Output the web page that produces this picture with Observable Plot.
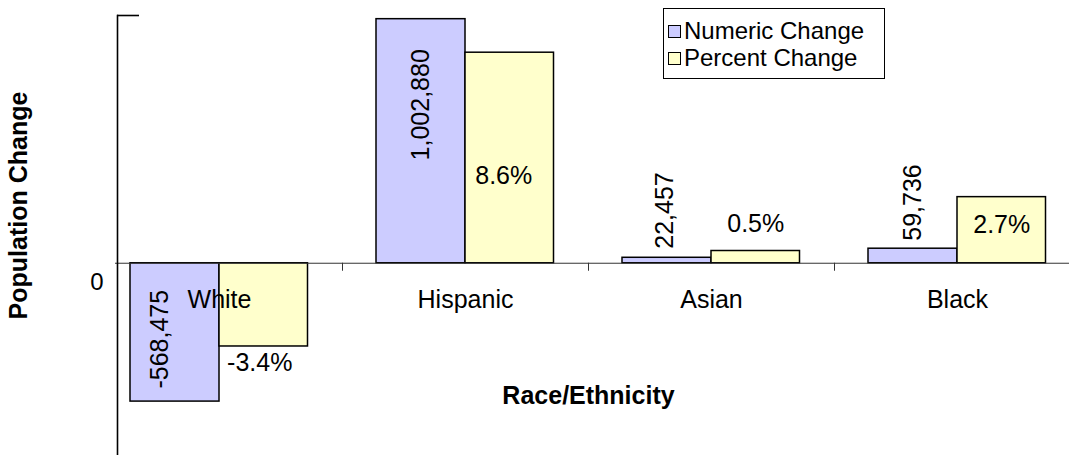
<!DOCTYPE html>
<html>
<head>
<meta charset="utf-8">
<script src="https://cdn.jsdelivr.net/npm/d3@7"></script>
<script src="https://cdn.jsdelivr.net/npm/@observablehq/plot@0.6"></script>
<style>
  html, body { margin: 0; padding: 0; background: #fff; overflow: hidden; }
  #wrap { position: relative; width: 1069px; height: 455px; font-family: "Liberation Sans", Arial, sans-serif; }
  #legend { position: absolute; left: 663px; top: 8px; width: 222px; height: 71px; border: 1px solid #000; background: #fff; box-sizing: border-box; }
  .row { position: absolute; left: 4px; height: 26px; display: flex; align-items: center; font-size: 24px; color: #000; white-space: nowrap; }
  .sw { width: 11px; height: 11px; border: 1px solid #000; margin-right: 3px; flex: none; }
</style>
</head>
<body>
<div id="wrap"></div>
<script>
// ---- data ----
const categories = ["White", "Hispanic", "Asian", "Black"];
const numericChange = [-568475, 1002880, 22457, 59736];
const percentChange = [-3.4, 8.6, 0.5, 2.7];
const seriesNames = ["Numeric Change", "Percent Change"];
const seriesColors = ["#CCCCFF", "#FFFFCC"];

// axis extent (people) and the secondary (percent) axis ratio: people per percentage point
const axisMax = 1018000;
const axisMin = -790000;
const pctScale = 100600;

const W = 1069, H = 455;
const bandRange = [95.7, 1079.7];
const bw = (bandRange[1] - bandRange[0]) / categories.length;

const fmtNum = v => d3.format(",")(v).replace("\u2212", "-");
const fmtPct = v => d3.format(".1f")(v).replace("\u2212", "-") + "%";
const numRows = categories.map((c, i) => ({category: c, value: numericChange[i], label: fmtNum(numericChange[i])}));
const pctRows = categories.map((c, i) => ({category: c, value: percentChange[i] * pctScale, label: fmtPct(percentChange[i])}));

const font = "'Liberation Sans', Arial, sans-serif";
const barInNum = {insetLeft: 34, insetRight: 123};
const barInPct = {insetLeft: 123, insetRight: 34.5};
const numCx = -bw / 2 + 34 + (bw - 34 - 123) / 2;   // offset of numeric bar center from band center
const pctCx = bw / 2 - 34.5 - (bw - 123 - 34.5) / 2;

// label placements
const numPlace = {
  White: {textAnchor: "start", dy: -13, dx: -15},
  Hispanic: {textAnchor: "end", dy: 30, dx: 0},
  Asian: {textAnchor: "start", dy: -9, dx: -2},
  Black: {textAnchor: "start", dy: -8, dx: 0}
};
const pctPlace = {
  White: {dy: 17, dx: -4},
  Hispanic: {dy: 123, dx: -6},
  Asian: {dy: -27, dx: 0},
  Black: {dy: 28, dx: 0}
};

const labelMarks = [];
for (const c of categories) {
  const np = numPlace[c];
  labelMarks.push(Plot.text(numRows.filter(d => d.category === c), {
    x: "category", y: "value", text: "label", rotate: -90,
    textAnchor: np.textAnchor, lineAnchor: "middle",
    dx: numCx + np.dx, dy: np.dy, fontSize: 25, fill: "#000"
  }));
  const pp = pctPlace[c];
  labelMarks.push(Plot.text(pctRows.filter(d => d.category === c), {
    x: "category", y: "value", text: "label",
    textAnchor: "middle", lineAnchor: "middle",
    dx: pctCx + pp.dx, dy: pp.dy, fontSize: 25, fill: "#000"
  }));
}

const chart = Plot.plot({
  width: W,
  height: H,
  marginLeft: 117,
  marginRight: 0,
  marginTop: 15,
  marginBottom: 0,
  style: {fontFamily: font, fontSize: "24px", color: "#000", background: "#fff", overflow: "hidden"},
  x: {type: "band", domain: categories, range: bandRange, padding: 0, axis: null},
  y: {type: "linear", domain: [axisMin, axisMax], axis: null},
  marks: [
    Plot.barY(numRows, {x: "category", y: "value", fill: seriesColors[0], stroke: "#000", strokeWidth: 1.5, ...barInNum}),
    Plot.barY(pctRows, {x: "category", y: "value", fill: seriesColors[1], stroke: "#000", strokeWidth: 1.5, ...barInPct}),
    // category axis line and tick marks between categories
    Plot.ruleY([0], {stroke: "#333", strokeWidth: 1, insetLeft: -2}),
    Plot.ruleX(categories.slice(1), {x: d => d, y1: 0, y2: 0, dx: -bw / 2, insetBottom: -8, stroke: "#333", strokeWidth: 1}),
    // value axis line, top tick and zero label
    Plot.frame({anchor: "left", stroke: "#000", strokeWidth: 1.6}),
    Plot.ruleY([axisMax], {insetRight: W - 117 - 22, stroke: "#000", strokeWidth: 1.6}),
    Plot.text(["0"], {frameAnchor: "left", y: () => 0, text: d => d, textAnchor: "end", lineAnchor: "middle", dx: -14, dy: 19, fontSize: 24}),
    // category labels
    Plot.text(categories, {x: d => d, y: () => 0, text: d => d, textAnchor: "middle", lineAnchor: "middle", dy: 37, fontSize: 25}),
    ...labelMarks,
    // axis titles
    Plot.text(["Population Change"], {frameAnchor: "left", text: d => d, rotate: -90, textAnchor: "middle", lineAnchor: "middle", dx: -99, dy: -30, fontSize: 25, fontWeight: "bold"}),
    Plot.text(["Race/Ethnicity"], {frameAnchor: "middle", text: d => d, textAnchor: "middle", lineAnchor: "middle", dx: -5, dy: 160, fontSize: 25, fontWeight: "bold"})
  ]
});

const wrap = document.getElementById("wrap");
wrap.appendChild(chart);

// legend
const legend = document.createElement("div");
legend.id = "legend";
seriesNames.forEach((name, i) => {
  const row = document.createElement("div");
  row.className = "row";
  row.style.top = (i === 0 ? 9 : 36) + "px";
  const sw = document.createElement("span");
  sw.className = "sw";
  sw.style.background = seriesColors[i];
  const t = document.createElement("span");
  t.textContent = name;
  row.appendChild(sw);
  row.appendChild(t);
  legend.appendChild(row);
});
wrap.appendChild(legend);
</script>
</body>
</html>
